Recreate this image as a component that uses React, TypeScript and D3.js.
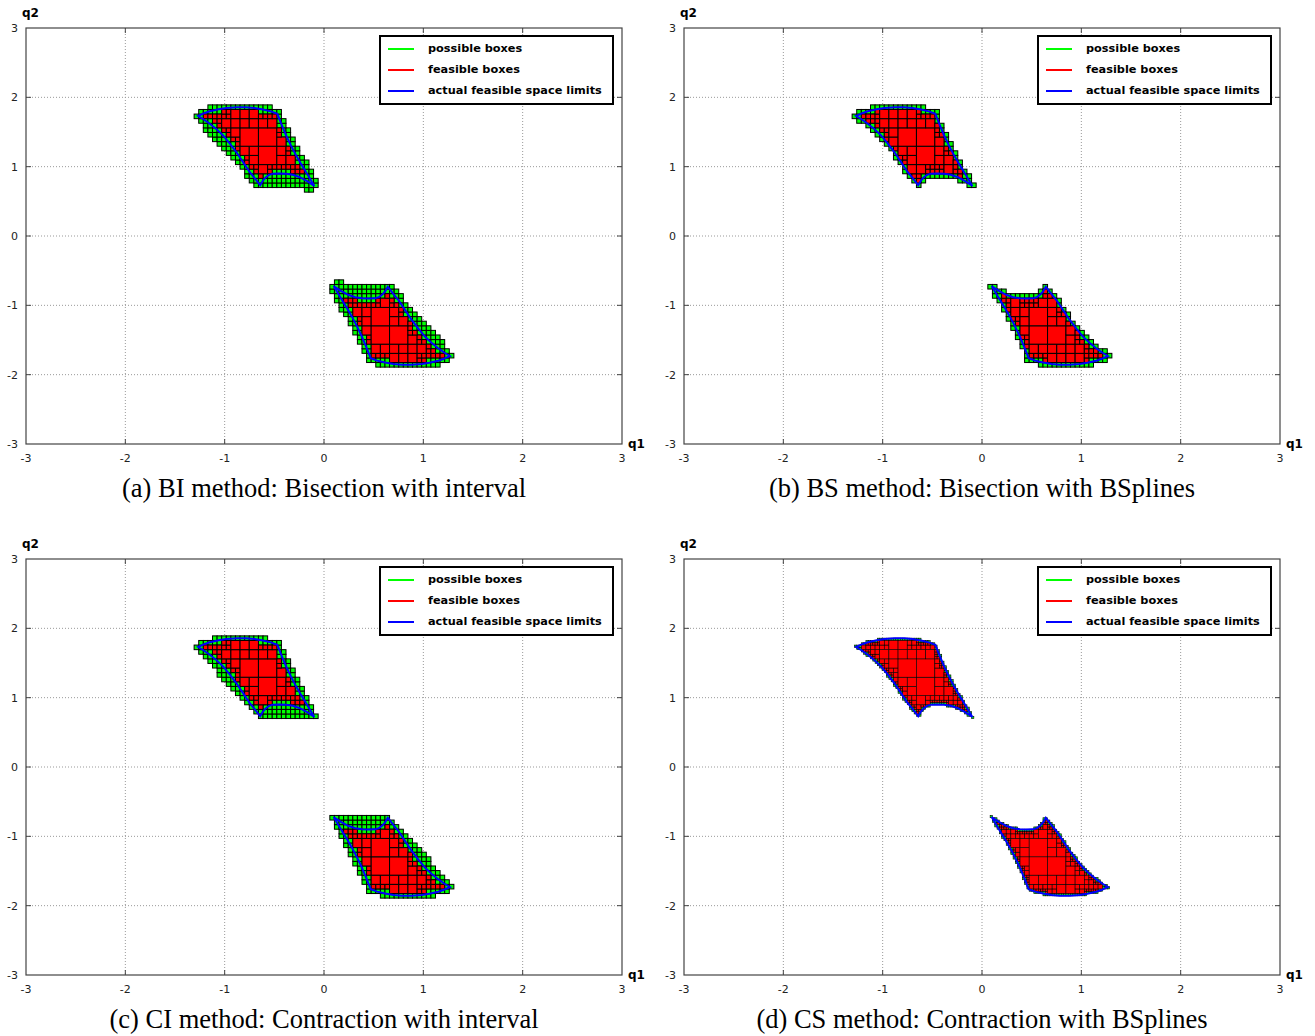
import React, { useMemo } from 'react';
import * as d3 from 'd3';

const W = 1315;
const H = 1036;

// actual feasible space limits of the upper region, (q1, q2).
// the lower region is its point reflection through the origin.
const limitQ1 = [
  -1.268, -1.2, -1.15, -1.06, -0.983, -0.88, -0.782, -0.7, -0.615, -0.535, -0.47,
  -0.425, -0.381, -0.331, -0.281, -0.231, -0.181, -0.097,
  -0.17, -0.248, -0.315, -0.381, -0.45, -0.515, -0.552, -0.582, -0.615, -0.642,
  -0.69, -0.749, -0.815, -0.883, -0.95, -1.016, -1.085, -1.15, -1.21,
];
const limitQ2 = [
  1.731, 1.775, 1.8, 1.828, 1.845, 1.857, 1.857, 1.845, 1.825, 1.798, 1.763,
  1.6, 1.45, 1.3, 1.163, 1.04, 0.924, 0.722,
  0.79, 0.852, 0.882, 0.899, 0.903, 0.899, 0.882, 0.852, 0.8, 0.731,
  0.82, 0.924, 1.065, 1.211, 1.335, 1.45, 1.545, 1.619, 1.68,
];

// starting box of the bisection for the upper region
const rootQ1 = [-1.4, 0.08];
const rootQ2 = [0.5, 2.62];

const ticks = [-3, -2, -1, 0, 1, 2, 3];
const captions = [
  '(a) BI method: Bisection with interval',
  '(b) BS method: Bisection with BSplines',
  '(c) CI method: Contraction with interval',
  '(d) CS method: Contraction with BSplines',
];
const legendLabels = ['possible boxes', 'feasible boxes', 'actual feasible space limits'];
const legendColors = ['#00ff00', '#ff0000', '#0000ff'];

// bisection settings per method: depth, outer margin (px), inner margin (px), hull-like over-approximation
const methods = [
  { depth: 5, outer: 4, inner: -0.5, hull: true, sw: 1 },
  { depth: 5, outer: 3, inner: -1.5, hull: false, sw: 1 },
  { depth: 5, outer: 3, inner: -0.5, hull: true, sw: 1 },
  { depth: 6, outer: 1, inner: -0.3, hull: false, sw: 0.6 },
];

const offsets = [[0, 0], [658, 0], [0, 531], [658, 531]];

const x = d3.scaleLinear().domain([-3, 3]).range([26, 622]);
const y = d3.scaleLinear().domain([-3, 3]).range([444, 28]);

type Pt = [number, number];
type Box = { a: number; b: number; c: number; d: number; kind: number };

function segDist(p: Pt, a: Pt, b: Pt) {
  const dx = b[0] - a[0], dy = b[1] - a[1];
  const l2 = dx * dx + dy * dy;
  let t = l2 ? ((p[0] - a[0]) * dx + (p[1] - a[1]) * dy) / l2 : 0;
  t = Math.max(0, Math.min(1, t));
  return Math.hypot(p[0] - a[0] - t * dx, p[1] - a[1] - t * dy);
}

function signedDist(poly: Pt[], p: Pt) {
  let m = Infinity;
  for (let i = 0; i < poly.length; i++) {
    m = Math.min(m, segDist(p, poly[i], poly[(i + 1) % poly.length]));
  }
  return d3.polygonContains(poly, p) ? m : -m;
}

function pave(sign: number, m: typeof methods[number]) {
  const poly: Pt[] = limitQ1.map((q, i) => [x(sign * q), y(sign * limitQ2[i])]);
  const hull = (d3.polygonHull(poly) as Pt[]) || poly;
  const boxes: Box[] = [];
  const rec = (a: number, b: number, c: number, d: number, level: number) => {
    // a,b: q1 range; c,d: q2 range
    const px0 = x(a), px1 = x(b), py0 = y(c), py1 = y(d);
    const ctr: Pt = [(px0 + px1) / 2, (py0 + py1) / 2];
    const r = Math.hypot(px1 - px0, py1 - py0) / 2;
    const dP = signedDist(poly, ctr);
    const dO = m.hull ? signedDist(hull, ctr) : dP;
    if (dO < -(r + m.outer)) return;
    if (dP > r + m.inner) {
      boxes.push({ a, b, c, d, kind: 1 });
      return;
    }
    if (level >= m.depth) {
      if (dO > -m.outer) boxes.push({ a, b, c, d, kind: 0 });
      return;
    }
    const mq1 = (a + b) / 2, mq2 = (c + d) / 2;
    rec(a, mq1, c, mq2, level + 1);
    rec(mq1, b, c, mq2, level + 1);
    rec(a, mq1, mq2, d, level + 1);
    rec(mq1, b, mq2, d, level + 1);
  };
  if (sign > 0) rec(rootQ1[0], rootQ1[1], rootQ2[0], rootQ2[1], 0);
  else rec(-rootQ1[1], -rootQ1[0], -rootQ2[1], -rootQ2[0], 0);
  return { boxes, poly };
}

const limitLine = d3.line<Pt>().curve(d3.curveLinearClosed);

function Panel({ idx }: { idx: number }) {
  const m = methods[idx];
  const [ox, oy] = offsets[idx];
  const regions = useMemo(() => [pave(1, m), pave(-1, m)], [m]);
  const allBoxes = regions.flatMap((r) => r.boxes);
  const green = allBoxes.filter((b) => b.kind === 0);
  const red = allBoxes.filter((b) => b.kind === 1);
  const inner = ticks.slice(1, -1);
  const lx = x(3) - 9 - 233;
  const ly = y(3) + 8;
  return (
    <g transform={`translate(${ox},${oy})`}>
      {inner.map((t) => (
        <g key={'g' + t}>
          <line x1={x(t)} x2={x(t)} y1={y(3)} y2={y(-3)} stroke="#999" strokeDasharray="1,2" />
          <line x1={x(-3)} x2={x(3)} y1={y(t)} y2={y(t)} stroke="#999" strokeDasharray="1,2" />
        </g>
      ))}
      {inner.map((t) => (
        <g key={'t' + t} stroke="#444">
          <line x1={x(t)} x2={x(t)} y1={y(-3)} y2={y(-3) - 5} />
          <line x1={x(t)} x2={x(t)} y1={y(3)} y2={y(3) + 5} />
          <line x1={x(-3)} x2={x(-3) + 5} y1={y(t)} y2={y(t)} />
          <line x1={x(3)} x2={x(3) - 5} y1={y(t)} y2={y(t)} />
        </g>
      ))}
      {ticks.map((t) => (
        <g key={'l' + t} fontFamily="DejaVu Sans" fontSize={11} fill="#222">
          <text x={x(t)} y={y(-3) + 18} textAnchor="middle">{t}</text>
          <text x={x(-3) - 8} y={y(t) + 4} textAnchor="end">{t}</text>
        </g>
      ))}
      {green.map((b, i) => (
        <rect key={'pb' + i} x={x(b.a)} y={y(b.d)} width={x(b.b) - x(b.a)} height={y(b.c) - y(b.d)}
          fill="#00ff00" stroke="#000" strokeWidth={m.sw} />
      ))}
      {red.map((b, i) => (
        <rect key={'fb' + i} x={x(b.a)} y={y(b.d)} width={x(b.b) - x(b.a)} height={y(b.c) - y(b.d)}
          fill="#ff0000" stroke="#000" strokeWidth={m.sw} />
      ))}
      {regions.map((r, i) => (
        <path key={'lim' + i} d={limitLine(r.poly) || ''} fill="none" stroke="#0000ff" strokeWidth={2} />
      ))}
      <rect x={x(-3)} y={y(3)} width={x(3) - x(-3)} height={y(-3) - y(3)} fill="none" stroke="#444" strokeWidth={1.2} />
      <rect x={lx} y={ly} width={233} height={68} fill="#fff" stroke="#000" strokeWidth={2} />
      {legendLabels.map((lab, i) => (
        <g key={lab}>
          <line x1={lx + 8} x2={lx + 34} y1={ly + 13 + i * 21} y2={ly + 13 + i * 21} stroke={legendColors[i]} strokeWidth={2} />
          <text x={lx + 48} y={ly + 16 + i * 21} fontFamily="DejaVu Sans" fontWeight="bold" fontSize={11.3}>{lab}</text>
        </g>
      ))}
      <text x={22} y={17} fontFamily="DejaVu Sans" fontWeight="bold" fontSize={12}>q2</text>
      <text x={628} y={448} fontFamily="DejaVu Sans" fontWeight="bold" fontSize={12}>q1</text>
      <text x={324} y={497} textAnchor="middle" fontFamily="Liberation Serif" fontSize={26.5}>{captions[idx]}</text>
    </g>
  );
}

export default function App() {
  return (
    <svg width={W} height={H} style={{ display: 'block', position: 'absolute', left: 0, top: 0 }}>
      <rect width={W} height={H} fill="#fff" />
      {methods.map((_, i) => (
        <Panel key={i} idx={i} />
      ))}
    </svg>
  );
}
